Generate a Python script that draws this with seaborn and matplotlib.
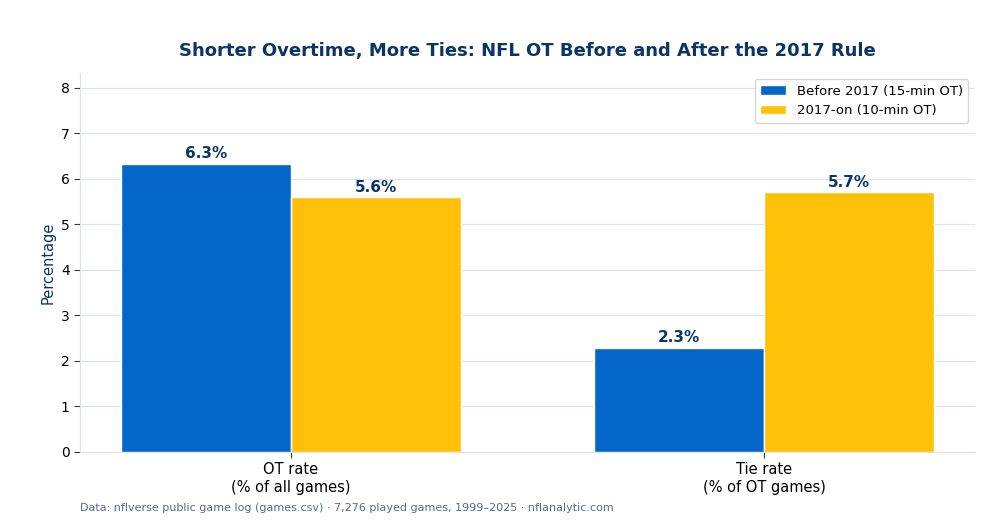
import numpy as np
import pandas as pd
import matplotlib
matplotlib.use("Agg")
import matplotlib.pyplot as plt
import seaborn as sns

metrics = ["OT rate\n(% of all games)", "Tie rate\n(% of OT games)"]
eras = ["Before 2017 (15-min OT)", "2017-on (10-min OT)"]
before_2017 = [6.32, 2.29]
after_2017 = [5.59, 5.70]

df = pd.DataFrame({
    "metric": metrics * 2,
    "era": [eras[0]] * 2 + [eras[1]] * 2,
    "value": before_2017 + after_2017,
})

navy = "#0B3566"
palette = {eras[0]: "#0366C8", eras[1]: "#FEC107"}

sns.set_style("white")
plt.rcParams["font.family"] = ["DejaVu Sans"]
plt.rcParams["text.color"] = "black"
plt.rcParams["xtick.color"] = "black"
plt.rcParams["ytick.color"] = "black"

fig = plt.figure(figsize=(10, 5.2), dpi=100)
ax = fig.add_axes([0.08, 0.131, 0.895, 0.729])

sns.barplot(data=df, x="metric", y="value", hue="era", palette=palette,
            width=0.72, saturation=1, edgecolor="white", linewidth=1,
            ax=ax, zorder=3)

for cont in ax.containers:
    ax.bar_label(cont, labels=[f"{v:.1f}%" for v in cont.datavalues],
                 padding=2, fontsize=11, fontweight="bold", color=navy)

ax.set_xlim(-0.446, 1.446)
ax.set_ylim(0, 8.33)
ax.set_yticks(range(0, 9))
ax.yaxis.grid(True, color="#DDE3EE", linewidth=0.8, zorder=0)
ax.set_axisbelow(True)
for s in ["top", "right"]:
    ax.spines[s].set_visible(False)
for s in ["left", "bottom"]:
    ax.spines[s].set_color("#DDE3EE")
ax.tick_params(axis="both", length=4, color="#333333", left=True, bottom=True)
ax.tick_params(axis="x", labelsize=10.5)
ax.tick_params(axis="y", labelsize=10)
ax.set_xlabel("")
ax.set_ylabel("Percentage", fontsize=10.5, color=navy)
ax.set_title("Shorter Overtime, More Ties: NFL OT Before and After the 2017 Rule",
             fontsize=13, fontweight="bold", color=navy, pad=12)

leg = ax.legend(loc="upper right", fontsize=9.5, frameon=True, title=None)
leg.get_frame().set_edgecolor("#CCCCCC")
for t in leg.get_texts():
    t.set_color("black")

fig.text(0.08, 0.018, "Data: nflverse public game log (games.csv) · 7,276 played games, 1999–2025 · nflanalytic.com",
         fontsize=8, color="#5A6A7E")

fig.savefig("out.png", dpi=100)
